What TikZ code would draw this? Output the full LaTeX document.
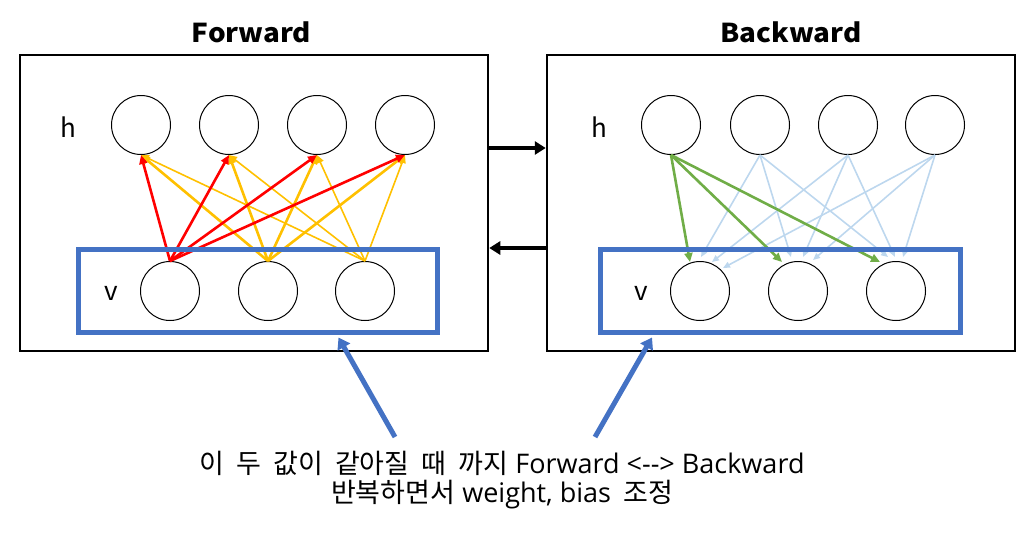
\documentclass[tikz,border=0pt]{standalone}
\usepackage{fontspec}
\newfontfamily\kr{Noto Sans CJK KR}
\newfontfamily\krn{Noto Sans CJK KR}[WordSpace=2]
\newfontfamily\krt{Noto Sans CJK KR}[FakeStretch=1.07]
\newfontfamily\lat{Open Sans}
\usetikzlibrary{arrows.meta,calc}
\definecolor{fred}{HTML}{FF0000}
\definecolor{fyel}{HTML}{FFC000}
\definecolor{bgreen}{HTML}{70AD47}
\definecolor{lblue}{HTML}{BDD7EE}
\definecolor{mblue}{HTML}{4472C4}
\begin{document}
\begin{tikzpicture}[x=1pt,y=-1pt,
  neuron/.style={circle,draw=black,line width=1pt,minimum size=59pt,inner sep=0pt},
  panel/.style={draw=black,line width=2.5pt,minimum width=468pt,minimum height=296pt,inner sep=0pt},
  vbox/.style={draw=mblue,line width=5pt,minimum height=82.5pt,inner sep=0pt},
  title/.style={font=\krt\bfseries\fontsize{26}{30}\selectfont},
  lbl/.style={font=\kr\fontsize{26}{30}\selectfont},
  redarr/.style={draw=fred,line width=2.6pt,-{Triangle[length=9pt,width=8pt]}},
  yelthick/.style={draw=fyel,line width=2.6pt,-{Triangle[length=9pt,width=8pt]}},
  yelthin/.style={draw=fyel,line width=1.6pt,-{Triangle[length=8pt,width=7pt]}},
  grnarr/.style={draw=bgreen,line width=2.6pt,-{Triangle[length=9pt,width=8pt]}},
  lbarr/.style={draw=lblue,line width=1.6pt,-{Triangle[length=7pt,width=6pt]}},
  blkarr/.style={draw=black,line width=4pt,-{Triangle[length=11pt,width=13pt]}},
  ptrarr/.style={draw=mblue,line width=5pt,-{Triangle[length=11pt,width=14pt]}}
]
\useasboundingbox (0,0) rectangle (1030,542);

% titles
\node[title] (tf) at (251.5,32) {Forward};
\node[title] (tb) at (791,32) {Backward};

% panels
\node[panel] (fw) at (254,203) {};
\node[panel] (bw) at (781,203) {};

% left neurons
\node[neuron] (lh1) at (141,125) {};
\node[neuron] (lh2) at (229,125) {};
\node[neuron] (lh3) at (317,125) {};
\node[neuron] (lh4) at (405,125) {};
\node[neuron] (lv1) at (170,291) {};
\node[neuron] (lv2) at (268,291) {};
\node[neuron] (lv3) at (365,291) {};
\node[lbl] (lhl) at (68,127) {h};
\node[lbl] (lvl) at (111,293) {v};

% right neurons
\node[neuron] (rh1) at (671,125) {};
\node[neuron] (rh2) at (760,125) {};
\node[neuron] (rh3) at (848,125) {};
\node[neuron] (rh4) at (935,125) {};
\node[neuron] (rv1) at (700,291) {};
\node[neuron] (rv2) at (798,291) {};
\node[neuron] (rv3) at (896,291) {};
\node[lbl] (rhl) at (599,127) {h};
\node[lbl] (rvl) at (641,293) {v};

% forward arrows
\foreach \h in {1,2,3,4} {
  \draw[yelthin] (lv3.north) -- (lh\h.south);
}
\foreach \h in {1,2,3,4} {
  \draw[yelthick] (lv2.north) -- (lh\h.south);
}
\foreach \h in {1,2,3,4} {
  \draw[redarr] (lv1.north) -- (lh\h.south);
}

% backward arrows
\draw[lbarr] (rh2.south) -- ($(rv1)+(1,-34)$);
\draw[lbarr] (rh2.south) -- ($(rv2)+(-7,-34)$);
\draw[lbarr] (rh2.south) -- ($(rv3)+(-8,-34)$);
\draw[lbarr] (rh3.south) -- ($(rv1)+(12,-29)$);
\draw[lbarr] (rh3.south) -- ($(rv2)+(5,-34)$);
\draw[lbarr] (rh3.south) -- ($(rv3)+(-1,-34)$);
\draw[lbarr] (rh4.south) -- ($(rv1)+(23,-23)$);
\draw[lbarr] (rh4.south) -- ($(rv2)+(15,-31)$);
\draw[lbarr] (rh4.south) -- ($(rv3)+(7,-34)$);
\draw[grnarr] (rh1.south) -- ($(rv1)+(-10,-29)$);
\draw[grnarr] (rh1.south) -- ($(rv2)+(-16,-29)$);
\draw[grnarr] (rh1.south) -- ($(rv3)+(-16,-29)$);

% visible boxes
\node[vbox,minimum width=359pt] (fb) at (257.5,290.75) {};
\node[vbox,minimum width=360pt] (bb) at (780,290.75) {};

% panel-to-panel arrows
\draw[blkarr] ($(fw.east)+(0,-55)$) -- ($(bw.west)+(0,-55)$);
\draw[blkarr] ($(bw.west)+(0,45)$) -- ($(fw.east)+(0,45)$);

% note
\node[font=\krn\fontsize{27}{29}\selectfont,align=center] (note) at (502,480)
  {이 두 값이 같아질 때 까지{\lat{} Forward <--> Backward}\\반복하면서{\lat{} weight, bias} 조정};
\coordinate (p1) at (395,437);
\coordinate (p2) at (595,437);
\draw[ptrarr] (p1) -- ($(fb.south)+(81,3)$);
\draw[ptrarr] (p2) -- ($(bb.south)+(-128,3)$);
\end{tikzpicture}
\end{document}
